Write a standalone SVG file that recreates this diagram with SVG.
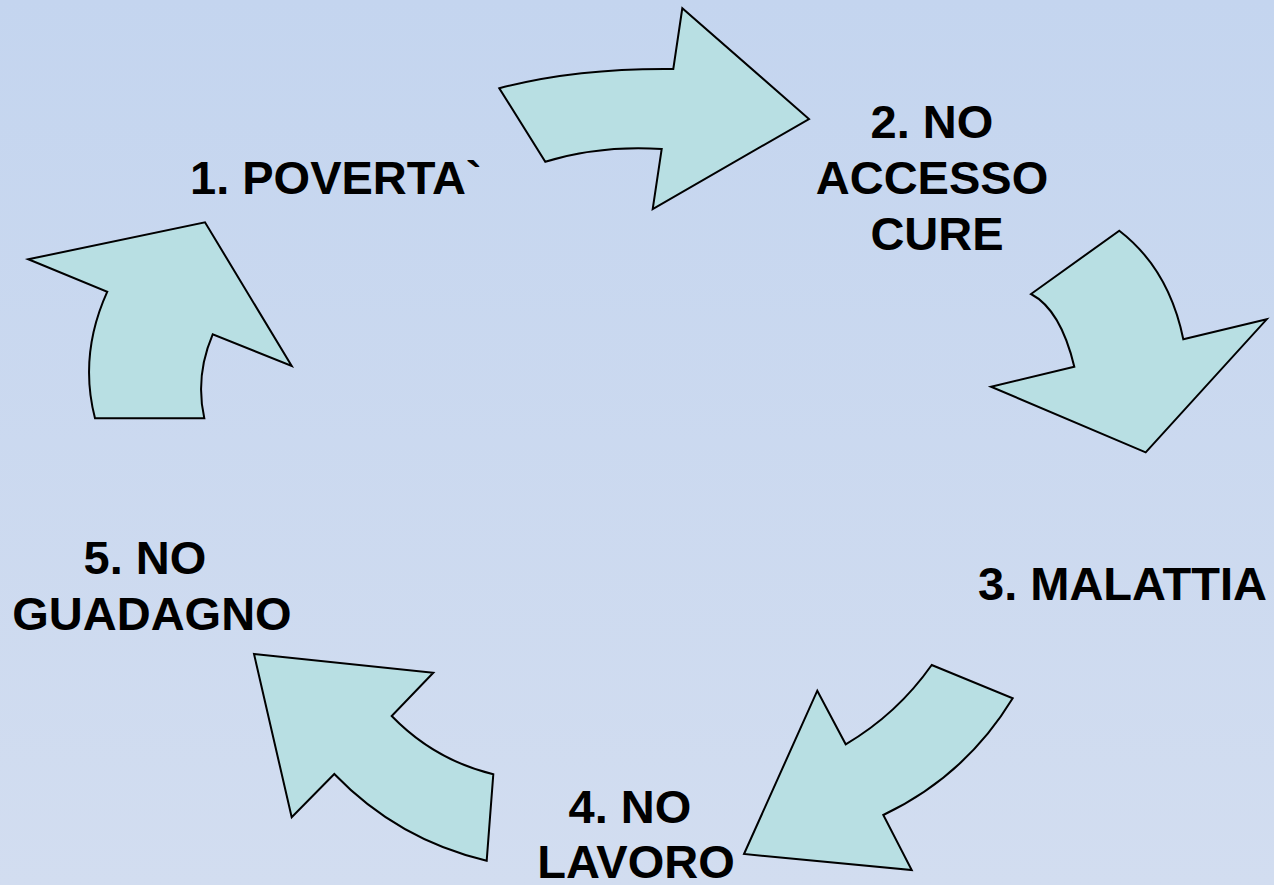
<svg xmlns="http://www.w3.org/2000/svg" width="1274" height="885" viewBox="0 0 1274 885">
<defs>
<linearGradient id="bg" x1="0" y1="0" x2="0" y2="1">
<stop offset="0" stop-color="#C4D5EF"/>
<stop offset="1" stop-color="#D2DDF0"/>
</linearGradient>
</defs>
<style>
.arrow{fill:#B8DFE3;stroke:#000;stroke-width:2;stroke-linejoin:miter}
.lbl{font-family:"Liberation Sans",Arial,sans-serif;font-weight:bold;font-size:47px;fill:#000}
.mid{text-anchor:middle}
</style>
<rect width="1274" height="885" fill="url(#bg)"/>
<g id="connectors">
<path class="arrow" d="M499.3,88.3 Q575,68 673.3,69 L682.3,8.3 L809,119 L652.7,209 L661.7,149 Q600,145 545.3,161.7 Z"/>
<path class="arrow" d="M1119.3,230.7 Q1169,269 1183.3,339.3 L1266.7,319.3 L1145.7,452.3 L991,386.7 L1074.3,366.7 Q1060.7,309.7 1031,294 Z"/>
<path class="arrow" d="M931.7,665 L1012.7,698.3 Q965.4,776 883.3,815 L911.7,870 L744,854 L817.3,690.7 L845.7,744.3 Q897.2,714 931.7,665 Z"/>
<path class="arrow" d="M254,654 L433.3,672.7 L391.7,716 Q434.1,759.8 493.3,774.3 L486.7,860.7 Q397.7,839.8 334.3,774 L291.7,817.3 Z"/>
<path class="arrow" d="M28.3,259.3 L205,222.3 L291.7,366 L212.7,334.3 Q194.9,376 204.3,418.3 L95,418.3 Q78.6,355 107.3,291.7 Z"/>
</g>
<g id="node1"><text class="lbl" x="190" y="194">1. POVERTA`</text></g>
<g id="node2">
<text class="lbl mid" x="932" y="138">2. NO</text>
<text class="lbl mid" x="932" y="194">ACCESSO</text>
<text class="lbl mid" x="937" y="250">CURE</text>
</g>
<g id="node3"><text class="lbl" x="978" y="600">3. MALATTIA</text></g>
<g id="node4">
<text class="lbl mid" x="630" y="823">4. NO</text>
<text class="lbl mid" x="636" y="878">LAVORO</text>
</g>
<g id="node5">
<text class="lbl mid" x="145" y="574">5. NO</text>
<text class="lbl mid" x="152" y="630">GUADAGNO</text>
</g>
</svg>
